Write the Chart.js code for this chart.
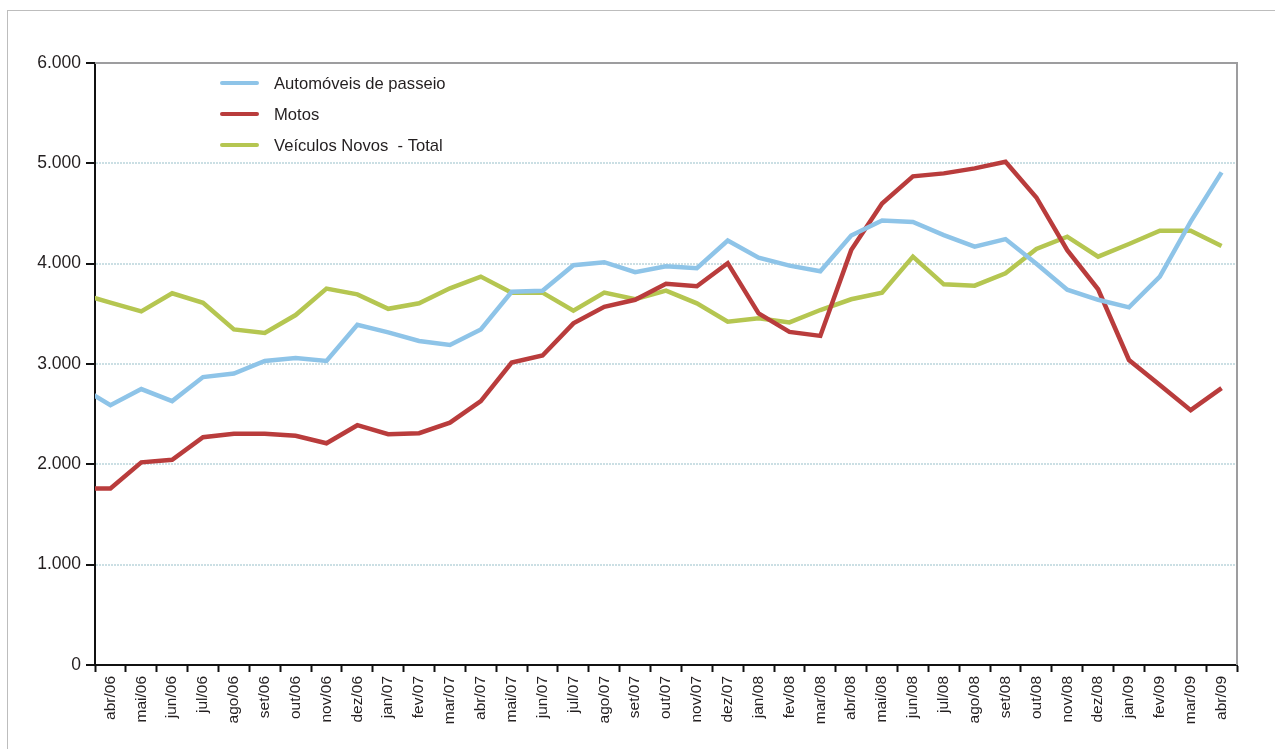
<!DOCTYPE html>
<html lang="pt-BR">
<head>
<meta charset="utf-8">
<title>Automóveis, motos e veículos novos</title>
<script src="https://cdn.jsdelivr.net/npm/chart.js@4.4.1/dist/chart.umd.min.js"></script>
<style>
  html, body { margin: 0; padding: 0; background: #fff; overflow: hidden; }
  #wrap { position: relative; width: 1275px; height: 749px; }
  #frame {
    position: absolute; left: 7px; top: 10px; width: 1300px; height: 800px;
    border: 1px solid #bdbdbd; pointer-events: none;
  }
</style>
</head>
<body>
<div id="wrap">
  <canvas id="chart" width="1275" height="749"></canvas>
  <div id="frame"></div>
</div>
<script>
// first month (mar/06) sits just left of the plot and is clipped, as in the original
const months = [
  "mar/06", "abr/06", "mai/06", "jun/06", "jul/06", "ago/06", "set/06", "out/06", "nov/06", "dez/06",
  "jan/07", "fev/07", "mar/07", "abr/07", "mai/07", "jun/07", "jul/07", "ago/07", "set/07", "out/07", "nov/07", "dez/07",
  "jan/08", "fev/08", "mar/08", "abr/08", "mai/08", "jun/08", "jul/08", "ago/08", "set/08", "out/08", "nov/08", "dez/08",
  "jan/09", "fev/09", "mar/09", "abr/09"
];

const automoveis = [
  2775, 2590, 2750, 2630, 2870, 2905, 3030, 3060, 3030, 3390,
  3315, 3230, 3190, 3345, 3720, 3730, 3985, 4015, 3915, 3975, 3955, 4230,
  4060, 3980, 3925, 4280, 4430, 4415, 4285, 4170, 4245, 4000, 3740, 3640,
  3565, 3870, 4420, 4910
];

const motos = [
  1760, 1760, 2020, 2045, 2270, 2305, 2305, 2285, 2210, 2390,
  2300, 2310, 2415, 2630, 3015, 3085, 3405, 3570, 3640, 3800, 3775, 4005,
  3505, 3320, 3280, 4135, 4600, 4870, 4900, 4950, 5015, 4660, 4135, 3745,
  3040, 2790, 2540, 2760
];

const veiculosNovos = [
  3700, 3612, 3525, 3705, 3610, 3345, 3310, 3488, 3752, 3694,
  3550, 3605, 3754, 3871, 3711, 3711, 3532, 3711, 3645, 3731, 3605, 3422,
  3455, 3415, 3538, 3645, 3711, 4070, 3794, 3781, 3904, 4146, 4269, 4070,
  4196, 4329, 4329, 4176
];

const seriesNames = ["Automóveis de passeio", "Motos", "Veículos Novos  - Total"];
const seriesColors = ["#8ec4e8", "#b93c3c", "#b5c651"];

const fontFamily = "'Liberation Sans', Arial, Helvetica, sans-serif";
const textColor = "#231f20";

function formatThousands(v) {
  return String(v).replace(/\B(?=(\d{3})+(?!\d))/g, ".");
}

// gray top/right frame of the plot area
const plotFrame = {
  id: "plotFrame",
  afterDraw(chart) {
    const { ctx, chartArea: a } = chart;
    ctx.save();
    ctx.strokeStyle = "#9d9d9f";
    ctx.lineWidth = 2;
    ctx.beginPath();
    ctx.moveTo(a.left, a.top);
    ctx.lineTo(a.right, a.top);
    ctx.lineTo(a.right, a.bottom);
    ctx.stroke();
    ctx.restore();
  }
};

// legend inside the plot, top left
const innerLegend = {
  id: "innerLegend",
  afterDraw(chart) {
    const { ctx } = chart;
    ctx.save();
    ctx.font = "16.6px " + fontFamily;
    ctx.textBaseline = "middle";
    chart.data.datasets.forEach((ds, i) => {
      const y = 83 + i * 31;
      ctx.strokeStyle = ds.borderColor;
      ctx.lineWidth = 4;
      ctx.lineCap = "round";
      ctx.beginPath();
      ctx.moveTo(222, y);
      ctx.lineTo(257, y);
      ctx.stroke();
      ctx.fillStyle = textColor;
      ctx.fillText(ds.label, 274, y + 1);
    });
    ctx.restore();
  }
};

const series = [automoveis, motos, veiculosNovos];

new Chart(document.getElementById("chart"), {
  type: "line",
  data: {
    labels: months,
    datasets: series.map((values, i) => ({
      label: seriesNames[i],
      data: values,
      borderColor: seriesColors[i],
      backgroundColor: seriesColors[i],
      borderWidth: 4.5,
      pointRadius: 0,
      pointHoverRadius: 0,
      tension: 0,
      clip: 0
    }))
  },
  options: {
    responsive: false,
    animation: false,
    events: [],
    layout: { padding: { top: 63, right: 38, left: 0, bottom: 0 } },
    plugins: {
      legend: { display: false },
      tooltip: { enabled: false }
    },
    scales: {
      x: {
        type: "category",
        min: "abr/06",
        offset: true,
        grid: {
          offset: true,
          drawOnChartArea: false,
          tickLength: 7,
          tickColor: "#111",
          tickWidth: 2
        },
        border: { color: "#111", width: 2 },
        ticks: {
          autoSkip: false,
          maxRotation: 90,
          minRotation: 90,
          padding: 4,
          color: textColor,
          font: { family: fontFamily, size: 15.5 }
        },
        afterFit(scale) { scale.height = 84; }
      },
      y: {
        min: 0,
        max: 6000,
        grid: {
          color: (c) => (c.tick && (c.tick.value === 0 || c.tick.value === 6000)) ? "rgba(0,0,0,0)" : "#cbdfe4",
          lineWidth: 2,
          tickLength: 9,
          tickColor: "#111",
          tickWidth: 2
        },
        border: { color: "#111", width: 2, dash: [2, 1] },
        ticks: {
          stepSize: 1000,
          padding: 5,
          color: textColor,
          font: { family: fontFamily, size: 17.5 },
          callback: (v) => formatThousands(v)
        },
        afterFit(scale) { scale.width = 95; }
      }
    }
  },
  plugins: [plotFrame, innerLegend]
});
</script>
</body>
</html>
